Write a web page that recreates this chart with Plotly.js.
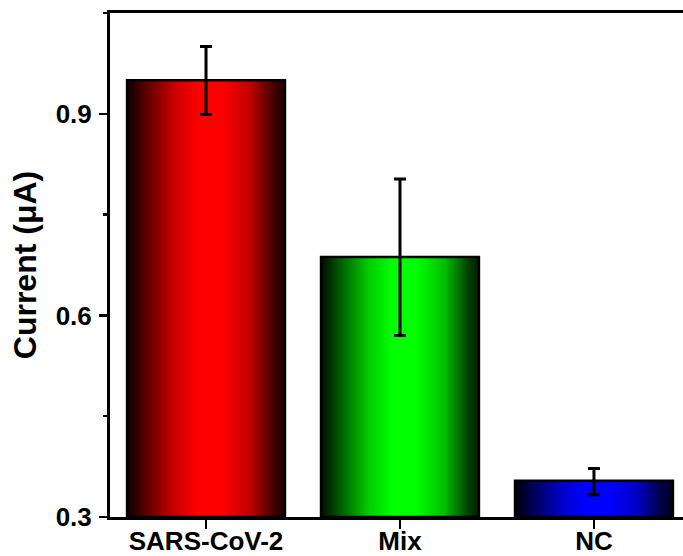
<!DOCTYPE html>
<html>
<head>
<meta charset="utf-8">
<script src="https://cdn.plot.ly/plotly-3.0.1.min.js"></script>
<style>html,body{margin:0;padding:0;background:#fff;}#chart{width:683px;height:556px;}</style>
</head>
<body>
<div id="chart"></div>
<script>
// ---- data ----
const categories = ["SARS-CoV-2", "Mix", "NC"];
const currentValues = [0.950, 0.687, 0.354];
const errPlus = [0.050, 0.116, 0.018];
const errMinus = [0.051, 0.117, 0.021];
const yTickVals = [0.3, 0.6, 0.9];
const yTickText = ["0.3", "0.6", "0.9"];

// ---- style ----
const barBase = 0.3;
const barHalfWidth = 0.407;
const colorscales = [
  [[0,'#0a0000'],[0.12,'#5a0000'],[0.3,'#cc0000'],[0.45,'#ff0000'],[0.6,'#ff0000'],[0.78,'#c00000'],[0.92,'#4a0000'],[1,'#1a0000']],
  [[0,'#000a00'],[0.12,'#005a00'],[0.3,'#00cc00'],[0.45,'#00ff00'],[0.6,'#00ff00'],[0.78,'#00c000'],[0.92,'#004a00'],[1,'#001a00']],
  [[0,'#00000a'],[0.12,'#00005a'],[0.3,'#0000cc'],[0.45,'#0000ff'],[0.6,'#0000ff'],[0.78,'#0000c0'],[0.92,'#00004a'],[1,'#00001a']]
];

const traces = [];
categories.forEach((c, i) => {
  const v = currentValues[i];
  traces.push({
    type: 'scatter',
    mode: 'lines',
    x: [i - barHalfWidth, i - barHalfWidth, i + barHalfWidth, i + barHalfWidth, i - barHalfWidth],
    y: [barBase, v, v, barBase, barBase],
    fill: 'toself',
    fillgradient: { type: 'horizontal', colorscale: colorscales[i] },
    line: { color: '#000', width: 2.5 },
    hoverinfo: 'skip',
    showlegend: false
  });
});

traces.push({
  type: 'scatter',
  mode: 'markers',
  x: categories.map((c, i) => i),
  y: currentValues,
  marker: { color: 'rgba(0,0,0,0)', size: 1 },
  error_y: { type: 'data', symmetric: false, array: errPlus, arrayminus: errMinus, color: '#000', thickness: 3, width: 6 },
  showlegend: false
});

const font = "'Liberation Sans', Arial, sans-serif";
const layout = {
  width: 683, height: 556,
  margin: { l: 110, r: 0, t: 13, b: 39 },
  paper_bgcolor: '#fff', plot_bgcolor: '#fff',
  showlegend: false,
  xaxis: {
    range: [-0.495, 2.459],
    tickmode: 'array',
    tickvals: categories.map((c, i) => i),
    ticktext: categories.map(c => '<b>' + c + '</b>'),
    ticks: 'outside', ticklen: 9, tickwidth: 2.5, tickcolor: '#000',
    ticklabelstandoff: -10,
    showline: true, linewidth: 3, linecolor: '#000', mirror: true,
    showgrid: false, zeroline: false,
    tickfont: { family: font, size: 26, color: '#000' }
  },
  yaxis: {
    range: [0.3, 1.05],
    tickmode: 'array',
    tickvals: yTickVals,
    ticktext: yTickText.map(t => '<b>' + t + '</b>'),
    ticks: 'outside', ticklen: 8, tickwidth: 2.5, tickcolor: '#000',
    minor: { tickmode: 'linear', tick0: 0.3, dtick: 0.15, ticks: 'outside', ticklen: 4, tickwidth: 2.5, tickcolor: '#000', showgrid: false },
    ticklabelstandoff: 2,
    showline: true, linewidth: 3, linecolor: '#000', mirror: false,
    showgrid: false, zeroline: false,
    tickfont: { family: font, size: 26, color: '#000' },
    title: { text: '<b>Current (μA)</b>', font: { family: font, size: 32, color: '#000' }, standoff: 10 }
  }
};

Plotly.newPlot('chart', traces, layout, { staticPlot: true, displayModeBar: false });
</script>
</body>
</html>
